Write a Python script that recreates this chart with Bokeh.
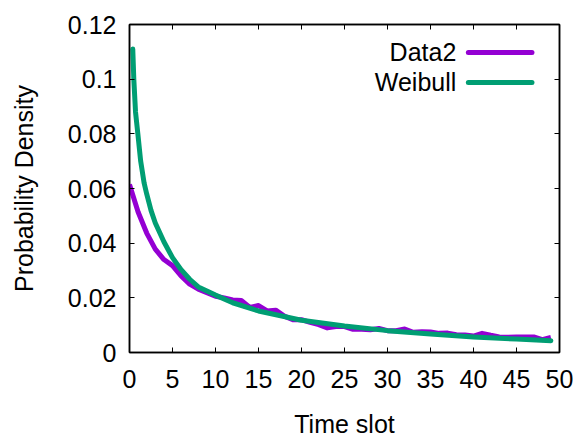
from bokeh.plotting import figure
from bokeh.models import Range1d, LinearAxis, FixedTicker, CustomJSTickFormatter, Label
from bokeh.embed import file_html
from bokeh.resources import INLINE

# Data2 (empirical density per time slot)
data_x = list(range(50))
data_y = [0.0615, 0.0514, 0.0437, 0.0378, 0.0340, 0.0318, 0.0280, 0.0250, 0.0232, 0.0219,
          0.0206, 0.0200, 0.0192, 0.0190, 0.0165, 0.0172, 0.0152, 0.0155, 0.0133, 0.0120,
          0.0120, 0.0110, 0.0102, 0.0090, 0.0095, 0.0095, 0.0085, 0.0085, 0.0083, 0.0088,
          0.0080, 0.0080, 0.0086, 0.0074, 0.0076, 0.0075, 0.0070, 0.0071, 0.0065, 0.0064,
          0.0060, 0.0070, 0.0063, 0.0057, 0.0056, 0.0057, 0.0057, 0.0057, 0.0047, 0.0055]

# Weibull fit curve (sampled)
weib_x = [0.38, 0.5, 0.7, 0.97, 1.3, 1.7, 2, 2.5, 3, 4, 5, 6, 7, 8, 10, 12, 15, 20, 25, 30, 35, 40, 45, 49]
weib_y = [0.111, 0.100, 0.088, 0.080, 0.070, 0.062, 0.058, 0.052, 0.0474, 0.0405, 0.0347, 0.0303,
          0.0268, 0.0240, 0.0210, 0.0182, 0.0152, 0.0118, 0.0097, 0.0080, 0.0068, 0.0057, 0.0049, 0.0043]

x_ticks = [0, 5, 10, 15, 20, 25, 30, 35, 40, 45, 50]
y_ticks = [0, 0.02, 0.04, 0.06, 0.08, 0.1, 0.12]

series_names = ["Data2", "Weibull"]
series_colors = ["#9400D3", "#009E73"]

FONT = "Liberation Sans"
FS = "25px"

p = figure(width=573, height=440, output_backend="svg", toolbar_location=None,
           x_range=Range1d(0, 50), y_range=Range1d(0, 0.12),
           min_border_left=129, min_border_right=14, min_border_top=24, min_border_bottom=87)
p.outline_line_color = "black"
p.outline_line_width = 1.5
p.xgrid.visible = False
p.ygrid.visible = False
p.background_fill_color = "white"
p.border_fill_color = "white"

fmt = CustomJSTickFormatter(code="return parseFloat(tick.toFixed(2)).toString();")
blank = CustomJSTickFormatter(code="return '';")

def style(ax, ticks, labels=True):
    ax.ticker = FixedTicker(ticks=ticks)
    ax.minor_tick_line_color = None
    ax.major_tick_in = 5
    ax.major_tick_out = 0
    ax.major_tick_line_color = "black"
    ax.major_tick_line_width = 1
    ax.axis_line_color = "black"
    ax.axis_line_width = 1.5
    ax.major_label_text_font = FONT
    ax.major_label_text_font_size = FS
    ax.major_label_text_color = "black"
    ax.axis_label_text_font = FONT
    ax.axis_label_text_font_size = FS
    ax.axis_label_text_font_style = "normal"
    ax.axis_label_text_color = "black"
    ax.formatter = fmt if labels else blank

xa = p.xaxis[0]
style(xa, x_ticks)
xa.axis_label = "Time slot"
xa.major_label_standoff = 17
xa.axis_label_standoff = 19

ya = p.yaxis[0]
style(ya, y_ticks)
ya.axis_label = "Probability Density"
ya.major_label_standoff = 13
ya.axis_label_standoff = 27

top = LinearAxis()
style(top, x_ticks, labels=False)
top.major_label_standoff = 0
p.add_layout(top, "above")
right = LinearAxis()
style(right, y_ticks, labels=False)
right.major_label_standoff = 0
p.add_layout(right, "right")

p.line(data_x, data_y, line_color=series_colors[0], line_width=5, line_join="round")
p.line(weib_x, weib_y, line_color=series_colors[1], line_width=5, line_join="round", line_cap="round")

# legend (gnuplot style: label then sample line)
leg_x0, leg_x1, leg_text_x = 39.4, 46.8, 38.0
leg_y = [0.1098, 0.0988]
for name, col, yy in zip(series_names, series_colors, leg_y):
    p.line([leg_x0, leg_x1], [yy, yy], line_color=col, line_width=5, line_cap="round")
    p.add_layout(Label(x=leg_text_x, y=yy, text=name, text_align="right", text_baseline="middle",
                       text_font=FONT, text_font_size=FS, text_color="black"))

open("out.html", "w").write(file_html(p, INLINE))
